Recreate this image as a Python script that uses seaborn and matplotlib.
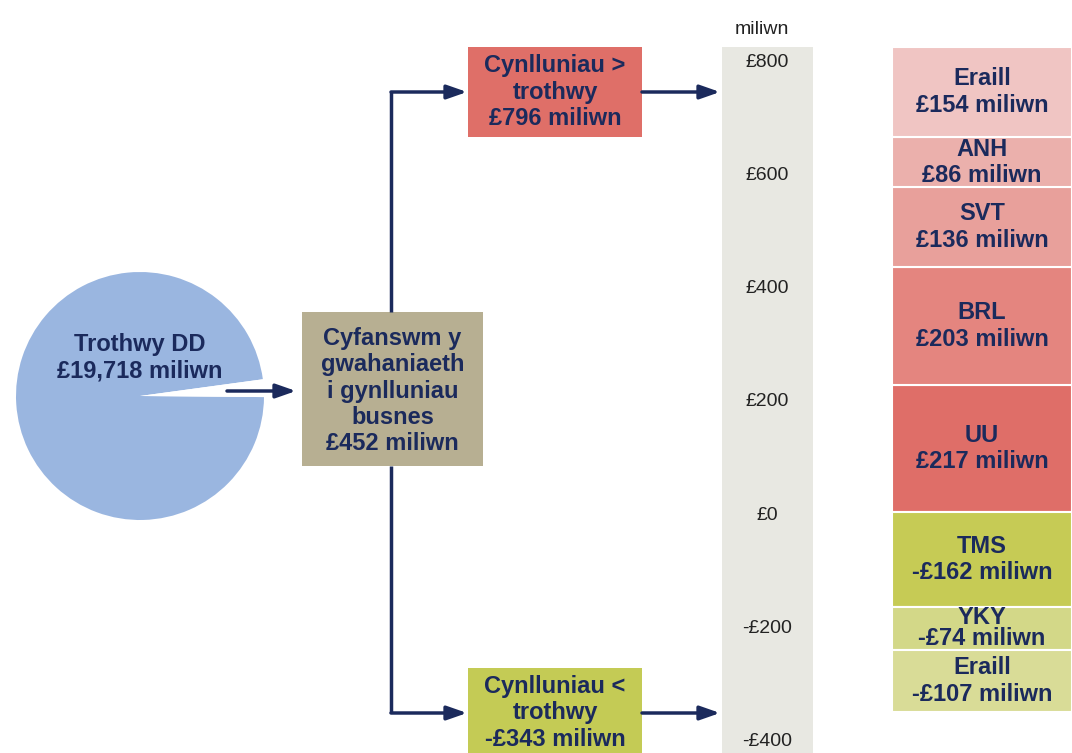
import matplotlib.pyplot as plt
import seaborn as sns
import numpy as np
from matplotlib.patches import Rectangle

# data (GBP million)
pie_total = 19718
total_diff = 452
above_total = 796
below_total = -343

pos_names = ["UU", "BRL", "SVT", "ANH", "Eraill"]
pos_values = [217, 203, 136, 86, 154]
pos_colors = ["#df6e68", "#e4857f", "#e8a09b", "#ebb0ac", "#f0c5c3"]

neg_names = ["TMS", "YKY", "Eraill"]
neg_values = [-162, -74, -107]
neg_colors = ["#c6cb55", "#d3d888", "#d9dc97"]

scale_ticks = [800, 600, 400, 200, 0, -200, -400]

navy = "#1b2a5c"
W, H = 1072, 753
LS = 1.18

sns.set_theme(style="white")
plt.rcParams['font.family'] = ['Liberation Sans', 'DejaVu Sans']

fig = plt.figure(figsize=(W / 100, H / 100), dpi=100)

# pie with the difference slice cut out (drawn first, stays underneath)
axp = fig.add_axes([16 / W, (H - 520) / H, 248 / W, 248 / H])
axp.set_zorder(0)
share = total_diff / pie_total * 360
axp.pie([pie_total - total_diff, total_diff], colors=["#9ab6e0", "white"],
        startangle=-0.5 + share, counterclock=True, radius=1,
        wedgeprops=dict(linewidth=0))
axp.set_xlim(-1, 1)
axp.set_ylim(-1, 1)
axp.set_aspect("equal")
axp.text(0.0, 0.31, f"Trothwy DD\n£{pie_total:,} miliwn", ha="center", va="center",
         fontsize=17, fontweight="bold", color=navy, linespacing=LS)

# diagram layer in pixel coordinates
ax = fig.add_axes([0, 0, 1, 1])
ax.set_zorder(2)
ax.set_xlim(0, W)
ax.set_ylim(H, 0)
ax.axis("off")
ax.patch.set_alpha(0)

# value layer for the stacked bar: y in GBP million (0 at y=512px, 0.584 px per million)
ppm = 0.584
y0 = 512
axb = fig.add_axes([0, 0, 1, 1])
axb.set_zorder(1)
axb.set_xlim(0, W)
axb.set_ylim((y0 - H) / ppm, y0 / ppm)
axb.axis("off")
axb.patch.set_alpha(0)

# the scale strip has its own (slightly compressed) scale in the original
sppm = 0.566
sy0 = 515
axs = fig.add_axes([0, 0, 1, 1])
axs.set_zorder(3)
axs.set_xlim(0, W)
axs.set_ylim((sy0 - H) / sppm, sy0 / sppm)
axs.axis("off")
axs.patch.set_alpha(0)


def box(x, y, w, h, color, text, dy=0):
    ax.add_patch(Rectangle((x, y), w, h, facecolor=color, edgecolor="none"))
    ax.text(x + w / 2, y + h / 2 + dy, text, ha="center", va="center", fontsize=17,
            fontweight="bold", color=navy, linespacing=LS)


def arrow(pts):
    xs, ys = zip(*pts)
    ax.plot(xs[:-1], ys[:-1], color=navy, lw=2.5, solid_capstyle="butt")
    ax.annotate("", xy=pts[-1], xytext=pts[-2],
                arrowprops=dict(arrowstyle="-|>,head_length=1.0,head_width=0.35",
                                color=navy, lw=2.5, shrinkA=0, shrinkB=0))


box(302, 312, 181, 154, "#b7af92",
    f"Cyfanswm y\ngwahaniaeth\ni gynlluniau\nbusnes\n£{total_diff} miliwn", dy=2)
box(468, 47, 174, 90, "#df6f68", f"Cynlluniau >\ntrothwy\n£{above_total} miliwn")
box(468, 668, 174, 100, "#c4cb55", f"Cynlluniau <\ntrothwy\n-£{-below_total} miliwn", dy=-5)

arrow([(227, 391), (296, 391)])
arrow([(391, 312), (391, 92), (467, 92)])
arrow([(391, 466), (391, 713), (467, 713)])
arrow([(642, 92), (720, 92)])
arrow([(642, 713), (720, 713)])

# scale strip
bottom_strip = (y0 - H) / ppm
axb.bar(767, sum(pos_values) - bottom_strip, bottom=bottom_strip, width=91,
        color="#e8e8e2", linewidth=0, zorder=0)
for t in scale_ticks:
    lab = f"£{t}" if t >= 0 else f"-£{-t}"
    axs.text(767, t, lab, ha="center", va="center", fontsize=14, color="#222222")
axb.text(762, sum(pos_values) + 15, "miliwn", ha="center", va="bottom",
         fontsize=14, color="#222222")

# stacked bar of plans
xc, bw = 982, 180


def stack(names, values, colors):
    base = 0
    for n, v, c in zip(names, values, colors):
        axb.bar(xc, v, bottom=base, width=bw, color=c, edgecolor="white", linewidth=1.5)
        ls = LS if abs(v) * ppm > 48 else 0.9
        lab = f"£{v} miliwn" if v >= 0 else f"-£{-v} miliwn"
        axb.text(xc, base + v / 2, f"{n}\n{lab}", ha="center", va="center", fontsize=17,
                 fontweight="bold", color=navy, linespacing=ls)
        base += v


stack(pos_names, pos_values, pos_colors)
stack(neg_names, neg_values, neg_colors)

fig.savefig("out.png", dpi=100)
